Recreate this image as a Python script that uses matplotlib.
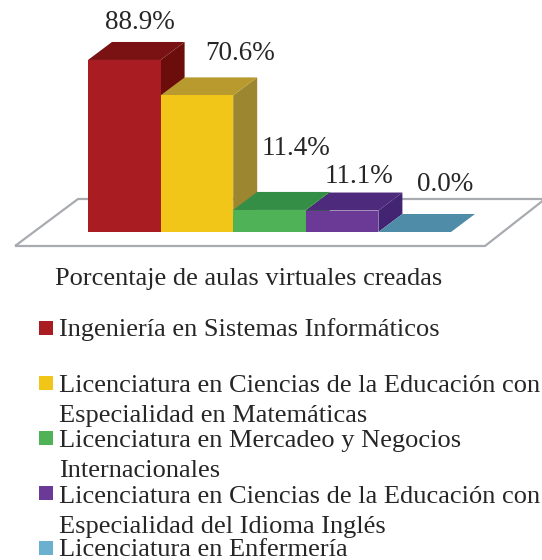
import matplotlib
matplotlib.use("Agg")
import matplotlib.pyplot as plt
from matplotlib.patches import Polygon, Rectangle

title = "Porcentaje de aulas virtuales creadas"
values = [88.9, 70.6, 11.4, 11.1, 0.0]
labels = ["88.9%", "70.6%", "11.4%", "11.1%", "0.0%"]
legend_lines = [
    ["Ingeniería en Sistemas Informáticos"],
    ["Licenciatura en Ciencias de la Educación con", "Especialidad en Matemáticas"],
    ["Licenciatura en Mercadeo y Negocios", "Internacionales"],
    ["Licenciatura en Ciencias de la Educación con", "Especialidad del Idioma Inglés"],
    ["Licenciatura en Enfermería"],
]

front = ["#A91C21", "#F2C618", "#4FB257", "#6A3A96", "#5A94B0"]
top = ["#7A1214", "#B89A2E", "#358E45", "#4E2A7C", "#4F8CA8"]
side = ["#6B0D0B", "#9C8630", "#2F7F3C", "#432472", "#4F8CA8"]
swatch = ["#A91C21", "#F2C618", "#4FB257", "#6A3A96", "#6CB0CF"]

W, H = 542, 560
X0, BAR_W = 88, 72.6
Y0, PX_PER = 232, 1.935
DX = 24 / BAR_W
DY = 18 / PX_PER

fig = plt.figure(figsize=(W / 100, H / 100), dpi=100)
ax = fig.add_axes([0, 0, 1, 1])
ax.set_xlim(-X0 / BAR_W, (W - X0) / BAR_W)
ax.set_ylim((Y0 - H) / PX_PER, Y0 / PX_PER)
ax.axis("off")
serif = "Liberation Serif"

def px(x, y):
    return (x / W, 1 - y / H)

# floor
floor = [px(15, 246), px(78, 199), px(545, 199), px(485, 246)]
fig.add_artist(Polygon(floor, closed=True, fill=False, edgecolor="#A8ABB0", lw=1.6,
                       transform=fig.transFigure, zorder=0))

for i, v in enumerate(values):
    ax.add_patch(Polygon([(i + 1, 0), (i + 1 + DX, DY), (i + 1 + DX, v + DY), (i + 1, v)],
                         facecolor=side[i], edgecolor="none", zorder=2 + i))
    ax.add_patch(Polygon([(i, v), (i + DX, v + DY), (i + 1 + DX, v + DY), (i + 1, v)],
                         facecolor=top[i], edgecolor="none", zorder=2 + i))
    if v > 0:
        ax.add_patch(Rectangle((i, 0), 1, v, facecolor=front[i], edgecolor="none", zorder=2 + i))

# data labels, offsets in pixels from the bar top
label_x = [105, 205, 262, 325, 417]
label_off = [31, 35, 55, 28, 41]
for i, v in enumerate(values):
    base = Y0 - v * PX_PER - label_off[i]
    fig.text(*px(label_x[i], base), labels[i], family=serif, fontsize=19.5,
             color="#262626", ha="left", va="baseline")

fig.text(*px(55, 285), title, family=serif, fontsize=19, color="#262626",
         ha="left", va="baseline")

# legend
box_y = [321, 376, 431, 486, 541]
text_y = [[336], [392, 422], [447, 477], [503, 533], [556]]
for i, lines in enumerate(legend_lines):
    fig.add_artist(Rectangle(px(39, box_y[i] + 14), 14 / W, 14 / H, facecolor=swatch[i],
                             edgecolor="none", transform=fig.transFigure))
    for line, y in zip(lines, text_y[i]):
        fig.text(*px(59, y), line, family=serif, fontsize=19, color="#262626",
                 ha="left", va="baseline")

fig.savefig("out.png", dpi=100)
